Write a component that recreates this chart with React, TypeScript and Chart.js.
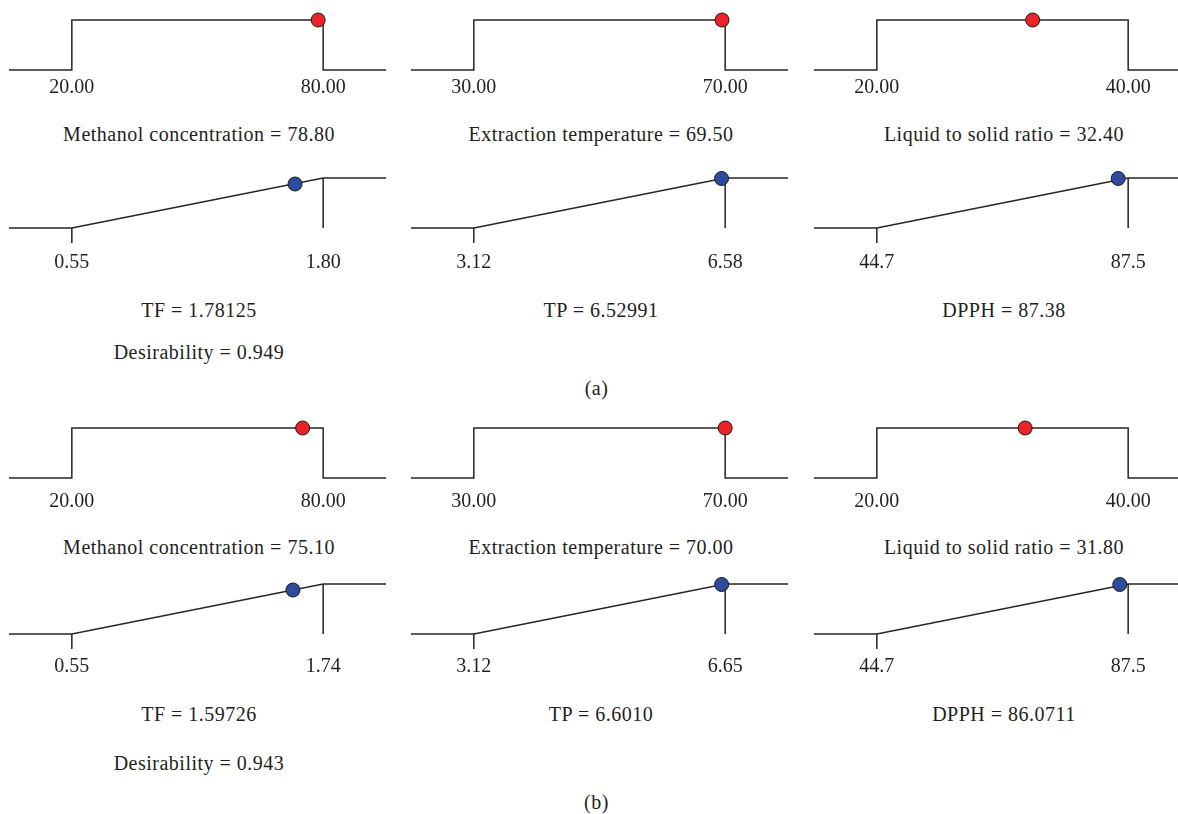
import React, { useEffect, useRef } from 'react';
import { Chart, registerables } from 'chart.js';

Chart.register(...registerables);

// ---------- data ----------
const factorNames = ['Methanol concentration', 'Extraction temperature', 'Liquid to solid ratio'];
const factorLow = [20, 30, 20];
const factorHigh = [80, 70, 40];
const factorLowLabels = ['20.00', '30.00', '20.00'];
const factorHighLabels = ['80.00', '70.00', '40.00'];
const factorValuesA = [78.8, 69.5, 32.4];
const factorValuesB = [75.1, 70.0, 31.8];
const factorValueLabelsA = ['78.80', '69.50', '32.40'];
const factorValueLabelsB = ['75.10', '70.00', '31.80'];

const responseNames = ['TF', 'TP', 'DPPH'];
const responseLowA = [0.55, 3.12, 44.7];
const responseHighA = [1.8, 6.58, 87.5];
const responseLowB = [0.55, 3.12, 44.7];
const responseHighB = [1.74, 6.65, 87.5];
const responseLowLabelsA = ['0.55', '3.12', '44.7'];
const responseHighLabelsA = ['1.80', '6.58', '87.5'];
const responseLowLabelsB = ['0.55', '3.12', '44.7'];
const responseHighLabelsB = ['1.74', '6.65', '87.5'];
const responseValueLabelsA = ['1.78125', '6.52991', '87.38'];
const responseValueLabelsB = ['1.59726', '6.6010', '86.0711'];
// marker positions (x in response units, y = desirability)
const responseMarkerXA = [1.66, 6.53, 85.8];
const responseMarkerYA = [0.88, 0.99, 0.99];
const responseMarkerXB = [1.597, 6.6, 86.07];
const responseMarkerYB = [0.88, 0.99, 0.99];

const desirabilityLabels = ['0.949', '0.943'];
const panelLetters = ['(a)', '(b)'];

// ---------- layout / style ----------
const FONT = "'Liberation Serif', 'Times New Roman', serif";
const TEXT = '#231f20';
const LINE = '#262626';
const RED = '#ec2227';
const BLUE = '#2d4c9e';
const COL_LEFT = [9, 411, 814];
const PANEL_W = 377;
const UNIT = 50; // px per desirability unit

type PanelDef = {
  kind: 'factor' | 'response';
  lo: number; hi: number; loLabel: string; hiLabel: string;
  mx: number; my: number; color: string;
  left: number; top: number; pad: number;
};

function Panel({ def }: { def: PanelDef }) {
  const ref = useRef<HTMLCanvasElement>(null);
  const ymax = 1.3;
  const ymin = def.kind === 'factor' ? 0 : -0.3;
  const hc = (ymax - ymin) * UNIT;
  const height = Math.round(hc + 24 + 2 * def.pad);
  useEffect(() => {
    const { lo, hi } = def;
    const span = hi - lo;
    const xmin = lo - 0.25 * span;
    const xmax = hi + 0.25 * span;
    const lineStyle = {
      borderColor: LINE, borderWidth: 1.5, pointRadius: 0, tension: 0,
      fill: false, clip: false as any, order: 1,
    };
    const datasets: any[] = [
      {
        data: [{ x: def.mx, y: def.my }],
        showLine: false, pointRadius: 7, pointHoverRadius: 7,
        pointBackgroundColor: def.color, backgroundColor: def.color,
        pointBorderColor: '#1a1a1a', borderColor: '#1a1a1a', pointBorderWidth: 1,
        clip: false, order: 0,
      },
    ];
    if (def.kind === 'factor') {
      datasets.push({
        ...lineStyle,
        data: [
          { x: xmin, y: 0 }, { x: lo, y: 0 }, { x: lo, y: 1 },
          { x: hi, y: 1 }, { x: hi, y: 0 }, { x: xmax, y: 0 },
        ],
      });
    } else {
      datasets.push({
        ...lineStyle,
        data: [{ x: xmin, y: 0 }, { x: lo, y: 0 }, { x: hi, y: 1 }, { x: xmax, y: 1 }],
      });
      datasets.push({ ...lineStyle, data: [{ x: lo, y: 0 }, { x: lo, y: -0.3 }] });
      datasets.push({ ...lineStyle, data: [{ x: hi, y: 1 }, { x: hi, y: 0 }] });
    }
    const tickLabels = [def.loLabel, def.hiLabel];
    const chart = new Chart(ref.current!, {
      type: 'line',
      data: { datasets },
      options: {
        animation: false,
        responsive: false,
        events: [],
        layout: { padding: 0, autoPadding: false },
        plugins: { legend: { display: false }, tooltip: { enabled: false }, title: { display: false } },
        scales: {
          x: {
            type: 'linear',
            min: xmin,
            max: xmax,
            grid: { display: false, drawTicks: false },
            border: { display: false },
            afterBuildTicks: (axis: any) => {
              axis.ticks = [{ value: lo }, { value: hi }];
            },
            ticks: {
              autoSkip: false,
              maxRotation: 0,
              padding: def.pad,
              color: TEXT,
              font: { family: FONT, size: 20, lineHeight: 1.2 },
              callback: (_v: any, i: number) => tickLabels[i],
            },
          },
          y: { type: 'linear', min: ymin, max: ymax, display: false },
        },
      } as any,
    });
    return () => chart.destroy();
  }, []);
  return (
    <canvas
      ref={ref}
      width={PANEL_W}
      height={height}
      style={{ position: 'absolute', left: def.left, top: def.top, width: PANEL_W, height, display: 'block' }}
    />
  );
}

function Label({ text, cx, cy }: { text: string; cx: number; cy: number }) {
  return (
    <div
      style={{
        position: 'absolute', left: cx - 250, top: cy - 12, width: 500, height: 24,
        lineHeight: '24px', textAlign: 'center', fontFamily: FONT, fontSize: 20,
        letterSpacing: '0.5px', color: TEXT, whiteSpace: 'nowrap',
      }}
    >
      {text}
    </div>
  );
}

export default function App() {
  const sets = [
    {
      factorTop: 5, factorPad: 6, respTop: 163, respPad: 8,
      fVals: factorValuesA, fValLabels: factorValueLabelsA,
      rLow: responseLowA, rHigh: responseHighA, rLowL: responseLowLabelsA, rHighL: responseHighLabelsA,
      rMx: responseMarkerXA, rMy: responseMarkerYA, rValLabels: responseValueLabelsA,
      factorTextY: 134, respTextY: 310, desirY: 352, letterY: 388,
    },
    {
      factorTop: 413, factorPad: 11.5, respTop: 569, respPad: 6,
      fVals: factorValuesB, fValLabels: factorValueLabelsB,
      rLow: responseLowB, rHigh: responseHighB, rLowL: responseLowLabelsB, rHighL: responseHighLabelsB,
      rMx: responseMarkerXB, rMy: responseMarkerYB, rValLabels: responseValueLabelsB,
      factorTextY: 547, respTextY: 713.5, desirY: 762.5, letterY: 802,
    },
  ];
  const items: React.ReactNode[] = [];
  sets.forEach((s, si) => {
    for (let c = 0; c < 3; c++) {
      const cx = COL_LEFT[c] + PANEL_W / 2 + 1.5;
      items.push(
        <Panel
          key={`f${si}${c}`}
          def={{
            kind: 'factor', lo: factorLow[c], hi: factorHigh[c],
            loLabel: factorLowLabels[c], hiLabel: factorHighLabels[c],
            mx: s.fVals[c], my: 1, color: RED,
            left: COL_LEFT[c], top: s.factorTop, pad: s.factorPad,
          }}
        />
      );
      items.push(
        <Panel
          key={`r${si}${c}`}
          def={{
            kind: 'response', lo: s.rLow[c], hi: s.rHigh[c],
            loLabel: s.rLowL[c], hiLabel: s.rHighL[c],
            mx: s.rMx[c], my: s.rMy[c], color: BLUE,
            left: COL_LEFT[c], top: s.respTop, pad: s.respPad,
          }}
        />
      );
      items.push(<Label key={`ft${si}${c}`} text={`${factorNames[c]} = ${s.fValLabels[c]}`} cx={cx} cy={s.factorTextY} />);
      items.push(<Label key={`rt${si}${c}`} text={`${responseNames[c]} = ${s.rValLabels[c]}`} cx={cx} cy={s.respTextY} />);
    }
    items.push(
      <Label key={`d${si}`} text={`Desirability = ${desirabilityLabels[si]}`} cx={COL_LEFT[0] + PANEL_W / 2 + 1.5} cy={s.desirY} />
    );
    items.push(<Label key={`l${si}`} text={panelLetters[si]} cx={596.5} cy={s.letterY} />);
  });
  return (
    <div style={{ position: 'absolute', left: 0, top: 0, width: 1178, height: 814, background: '#fff', overflow: 'hidden' }}>
      {items}
    </div>
  );
}
